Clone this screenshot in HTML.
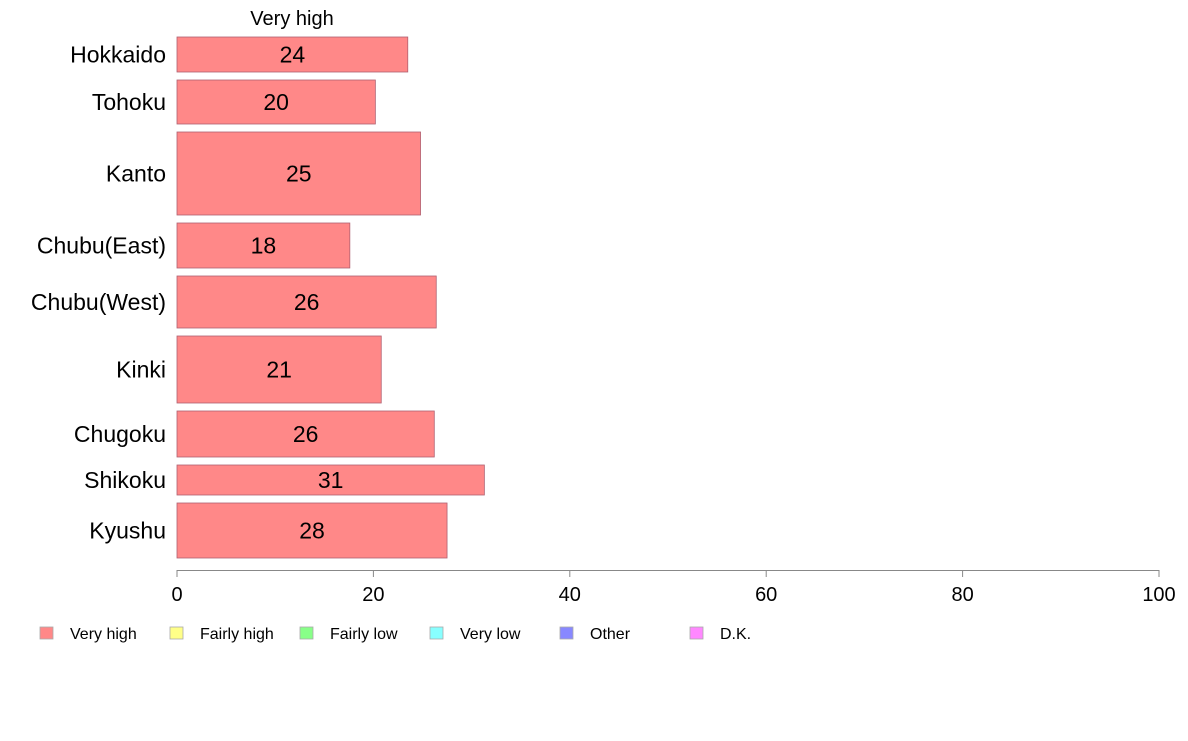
<!DOCTYPE html>
<html><head><meta charset="utf-8"><style>
body{margin:0;background:#fff;}
svg text{font-family:"Liberation Sans",Arial,sans-serif;}
</style></head><body>
<svg id="chart" width="1188" height="736" xmlns="http://www.w3.org/2000/svg"></svg>
<script>
const categories=["Hokkaido","Tohoku","Kanto","Chubu(East)","Chubu(West)","Kinki","Chugoku","Shikoku","Kyushu"];
const values=[23.5,20.2,24.8,17.6,26.4,20.8,26.2,31.3,27.5];
const valueLabels=["24","20","25","18","26","21","26","31","28"];
const sampleWeights=[35,44,83,45,52,67,46,30,55];
const xTicks=[0,20,40,60,80,100];
const legendLabels=["Very high","Fairly high","Fairly low","Very low","Other","D.K."];
const legendColors=["#ff8888","#ffff88","#88ff88","#88ffff","#8888ff","#ff88ff"];

const svgEl=document.getElementById('chart');
const NS="http://www.w3.org/2000/svg";
function mk(tag,attrs,parent){const e=document.createElementNS(NS,tag);for(const k in attrs)e.setAttribute(k,attrs[k]);(parent||svgEl).appendChild(e);return e;}
const x0=177,x1=1159,yTop=37,yBottom=558,gap=8;
const xs=v=>x0+(x1-x0)*v/100;
const totalW=sampleWeights.reduce((a,b)=>a+b,0);
const unitH=(yBottom-yTop-gap*(categories.length-1))/totalW;

const t=mk('text',{x:292,y:25,'font-size':20,'text-anchor':'middle',fill:'#000'});


t.textContent="Very high";

let yy=yTop;
categories.forEach((c,i)=>{
  const h=sampleWeights[i]*unitH;
  const r=mk('rect',{x:x0,y:yy,width:xs(values[i])-x0,height:h,fill:'#ff8888',stroke:'#b06070','stroke-width':0.8});
  
  
  const vl=mk('text',{x:(x0+xs(values[i]))/2,y:yy+h/2+8,'font-size':23,'text-anchor':'middle',fill:'#000'});
  
  
  vl.textContent=valueLabels[i];
  const cl=mk('text',{x:166,y:yy+h/2+8,'font-size':23,'text-anchor':'end',fill:'#000'});
  
  
  cl.textContent=c;
  yy+=h+gap;
});

const ax=mk('line',{x1:x0,x2:x1,y1:570.5,y2:570.5,stroke:'#888','stroke-width':1});


xTicks.forEach(v=>{
  const tk=mk('line',{x1:xs(v),x2:xs(v),y1:570,y2:577,stroke:'#888','stroke-width':1});
  
  
  const tl=mk('text',{x:xs(v),y:601,'font-size':20,'text-anchor':'middle',fill:'#000'});
  
  
  tl.textContent=v;
});

legendLabels.forEach((l,i)=>{
  const lx=40+i*130;
  const g=mk('g',{});
  
  
  mk('rect',{x:lx,y:627,width:13,height:12,fill:legendColors[i],stroke:'#aaa','stroke-width':0.8},g);
  const tx=mk('text',{x:lx+30,y:639,'font-size':16,fill:'#000'},g);
  tx.textContent=l;
});
</script>
</body></html>
